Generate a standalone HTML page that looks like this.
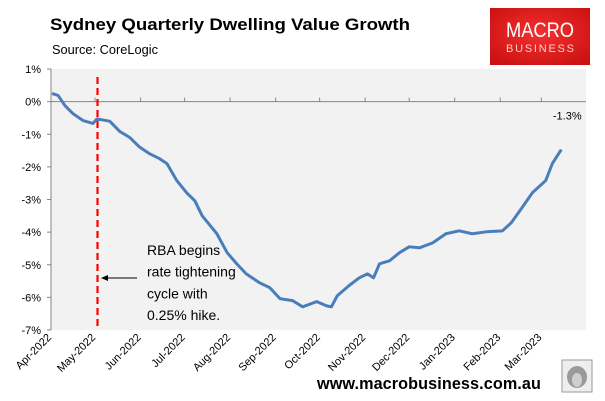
<!DOCTYPE html>
<html><head><meta charset="utf-8"><style>
body{margin:0;background:#fff;width:605px;height:401px;overflow:hidden}
svg{display:block;font-family:"Liberation Sans",sans-serif}
</style></head><body>
<svg width="605" height="401" viewBox="0 0 605 401" id="chart">
<text x="50" y="30" font-size="17" font-weight="bold" fill="#000" textLength="360" lengthAdjust="spacingAndGlyphs">Sydney Quarterly Dwelling Value Growth</text>
<text x="52" y="54" font-size="13" fill="#000" textLength="106" lengthAdjust="spacingAndGlyphs">Source: CoreLogic</text>
<g>
<defs><radialGradient id="lg" cx="50%" cy="45%" r="70%"><stop offset="0" stop-color="#f4302f"/><stop offset="1" stop-color="#c8100f"/></radialGradient></defs>
<rect x="490" y="8" width="100" height="57" fill="url(#lg)"/>
<text x="540" y="37" font-size="21" fill="#fff" text-anchor="middle" textLength="68" lengthAdjust="spacingAndGlyphs">MACRO</text>
<text x="540" y="52" font-size="11" fill="#f3d0d0" text-anchor="middle" textLength="68" lengthAdjust="spacing">BUSINESS</text>
</g>
<rect x="51" y="69" width="535" height="261" fill="#f2f2f2"/>
<g id="axes"></g>
<g id="marks"></g>
<text x="317" y="389" font-size="16.2" font-weight="bold" letter-spacing="0.1" fill="#000">www.macrobusiness.com.au</text>
<g>
<rect x="562" y="360" width="30" height="32" fill="#eee" stroke="#999"/>
<ellipse cx="577" cy="377" rx="10" ry="11" fill="#9a9a9a"/>
<ellipse cx="577" cy="380" rx="5" ry="7" fill="#cfcfcf"/>
</g>
</svg>
<script>
const yTicks=[1,0,-1,-2,-3,-4,-5,-6,-7];
const monthLabels=["Apr-2022","May-2022","Jun-2022","Jul-2022","Aug-2022","Sep-2022","Oct-2022","Nov-2022","Dec-2022","Jan-2023","Feb-2023","Mar-2023"];
const monthDays=[0,30,61,91,122,153,183,214,244,275,306,334];
const dataDays=[0.7,4.8,9.5,15,21.8,28.6,31.3,40,47,53.7,60.5,67.3,74,79,85.7,92.5,98,103,113,120,126.5,133,142,149,156,164.6,171.4,181,187.8,191,195,203,210,215.6,219.7,223.8,230.6,237.4,244,251,260,269,278,287,296.6,307.5,313.6,320.4,328,337,341.5,347.6];
const dataValues=[0.25,0.19,-0.12,-0.37,-0.58,-0.67,-0.53,-0.6,-0.92,-1.1,-1.4,-1.6,-1.75,-1.9,-2.42,-2.8,-3.04,-3.5,-4.05,-4.63,-4.97,-5.28,-5.55,-5.7,-6.04,-6.1,-6.29,-6.13,-6.26,-6.29,-5.95,-5.64,-5.4,-5.28,-5.4,-4.97,-4.88,-4.63,-4.45,-4.48,-4.33,-4.05,-3.96,-4.05,-3.99,-3.96,-3.71,-3.28,-2.79,-2.42,-1.9,-1.47];
const endLabel="-1.3%";
const rbaDay=31;
const NS="http://www.w3.org/2000/svg";
const x=d=>51+d*1.468;
const y=v=>69+(1-v)*32.625;
function mk(t,a,p){const e=document.createElementNS(NS,t);for(const k in a)e.setAttribute(k,a[k]);p.appendChild(e);return e;}
const axes=document.getElementById('axes'),marks=document.getElementById('marks');
const ya=mk('line',{x1:51,y1:69,x2:51,y2:330,stroke:'#868686'},axes);


yTicks.forEach(v=>{
 mk('line',{x1:47,y1:y(v),x2:51,y2:y(v),stroke:'#868686'},axes);
 const t=mk('text',{x:41,y:y(v)+4,'font-size':11,'text-anchor':'end',fill:'#000'},axes);
 t.textContent=v+'%';
 
 
});
const xa=mk('line',{x1:51,y1:y(0),x2:586,y2:y(0),stroke:'#868686'},axes);


monthDays.forEach((d,i)=>{
 mk('line',{x1:x(d),y1:y(0)-4,x2:x(d),y2:y(0),stroke:'#868686'},axes);
 const t=mk('text',{x:0,y:0,'font-size':11,'text-anchor':'end',fill:'#000',transform:`translate(${x(d)+1},${338}) rotate(-45)`},axes);
 t.textContent=monthLabels[i];
 
 
});
const rl=mk('line',{x1:x(rbaDay)+1,y1:77,x2:x(rbaDay)+1,y2:330,stroke:'#ff0000','stroke-width':2.2,'stroke-dasharray':'7,4'},marks);


const p=mk('polyline',{points:dataDays.map((d,i)=>x(d)+','+y(dataValues[i])).join(' '),fill:'none',stroke:'#4a7ebb','stroke-width':3,'stroke-linejoin':'round'},marks);


const n=dataDays.length-1;
const el=mk('text',{x:x(dataDays[n])+6,y:y(dataValues[n])-30,'font-size':11,'text-anchor':'middle',fill:'#000'},marks);
el.textContent=endLabel;


const ann=mk('g',{},marks);


["RBA begins","rate tightening","cycle with","0.25% hike."].forEach((s,i)=>{const t=mk('text',{x:147,y:255+i*21.7,'font-size':14,fill:'#000'},ann);t.textContent=s;});
mk('line',{x1:137,y1:278,x2:106,y2:278,stroke:'#000','stroke-width':1},ann);
mk('polygon',{points:'101,278 108,275 108,281',fill:'#000'},ann);
</script>
</body></html>
